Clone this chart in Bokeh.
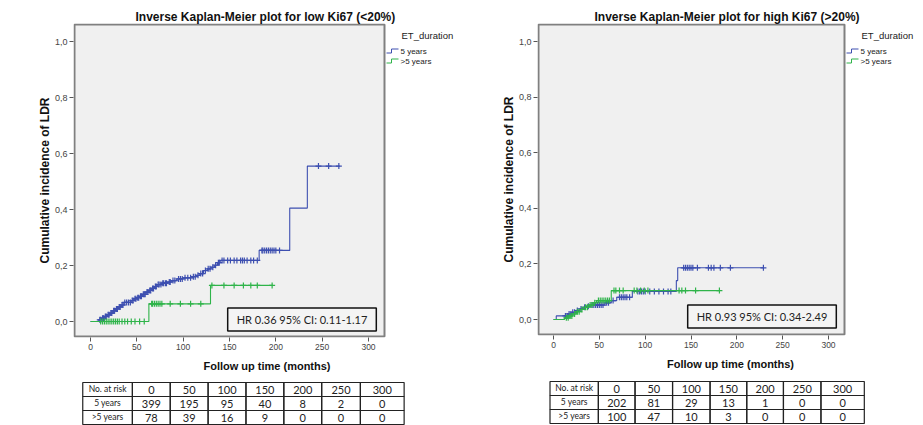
import numpy as np
from bokeh.plotting import figure
from bokeh.models import Range1d, Label, FixedTicker, CustomJSTickFormatter
from bokeh.layouts import row, column
from bokeh.embed import file_html
from bokeh.resources import INLINE
from bokeh.core.properties import value

# ---------------- data ----------------
x_ticks = [0, 50, 100, 150, 200, 250, 300]
y_ticks = [0.0, 0.2, 0.4, 0.6, 0.8, 1.0]
group_labels = ["5 years", ">5 years"]

# low Ki67, ET 5 years
L5_t = [0, 9, 12, 15, 18, 21, 24, 27, 30, 33, 36, 44, 47, 50, 53, 56, 60, 63, 66, 69,
        72, 77, 83, 88, 93, 100, 110, 114, 118, 122, 126, 130, 134, 137, 140, 182, 215, 234]
L5_y = [0, .006, .012, .018, .024, .030, .038, .045, .052, .059, .068, .075, .081, .085, .090,
        .097, .105, .111, .118, .125, .132, .137, .141, .146, .152, .156, .160, .165, .171, .182,
        .188, .194, .201, .210, .218, .254, .405, .555]
L5_end = 269
L5_cens = [10, 11, 13, 14, 16, 17, 19, 20, 22, 23, 25, 26, 28, 29, 31, 32, 34, 35, 37, 39, 41,
           43, 45, 46, 48, 49, 51, 52, 54, 55, 57, 58, 59, 61, 62, 64, 65, 67, 68, 70, 71, 73, 74,
           76, 78, 79, 81, 82, 85, 86, 89, 91, 95, 97, 99, 102, 105, 108, 111, 113, 116, 119, 121,
           124, 127, 129, 132, 135, 138, 139, 142, 144, 148, 151, 155, 158, 162, 164, 166, 169,
           173, 176, 180, 185, 186, 188, 190, 192, 194, 196, 198, 200, 204, 246, 257, 268]
# low Ki67, ET >5 years
LG_t = [0, 63, 129.5]
LG_y = [0, 0.063, 0.129]
LG_end = 197
LG_cens = [11, 13, 15, 17, 19, 21, 23, 25, 27, 29, 31, 34, 37, 40, 44, 48, 53, 58, 66, 67, 69,
           71, 73, 75, 77, 86, 97, 108, 119, 131, 144, 155, 165, 173, 180, 196]

# high Ki67, ET 5 years
R5_t = [0, 3, 16, 20, 24, 28, 32, 36, 40, 56, 63, 69, 86, 134, 135.5]
R5_y = [0, .013, .02, .026, .032, .038, .044, .048, .052, .06, .068, .08, .101, .14, .186]
R5_end = 229
R5_cens = [13, 15, 17, 19, 21, 23, 26, 30, 34, 38, 42, 44, 46, 48, 50, 52, 54, 58, 60, 65, 72,
           74, 76, 78, 80, 83, 92, 94, 96, 98, 100, 105, 110, 115, 120, 125, 128, 142, 144, 146,
           148, 150, 152, 157, 169, 172, 175, 182, 193, 229]
# high Ki67, ET >5 years
RG_t = [0, 12, 17, 21, 25, 29, 33, 38, 43, 47, 63]
RG_y = [0, .006, .013, .02, .028, .036, .044, .052, .06, .068, .104]
RG_end = 181
RG_cens = [14, 16, 18, 20, 23, 26, 28, 31, 35, 37, 40, 42, 45, 49, 51, 53, 55, 57, 59, 61, 66,
           68, 72, 76, 88, 91, 95, 99, 103, 137, 140, 144, 155, 181]

risk_header = "No. at risk"
L_risk_5 = [399, 195, 95, 40, 8, 2, 0]
L_risk_g5 = [78, 39, 16, 9, 0, 0, 0]
R_risk_5 = [202, 81, 29, 13, 1, 0, 0]
R_risk_g5 = [100, 47, 10, 3, 0, 0, 0]

L_title = "Inverse Kaplan-Meier plot for low Ki67 (<20%)"
R_title = "Inverse Kaplan-Meier plot for high Ki67 (>20%)"
L_hr = "HR 0.36 95% CI: 0.11-1.17"
R_hr = "HR 0.93 95% CI: 0.34-2.49"
legend_title = "ET_duration"

BLUE = "#3d4fb0"
GREEN = "#2fb44a"
AX_FONT = "Liberation Sans"
TBL_FONT = "Lato"


def add_curve(p, t, y, end, cens, color):
    xs = list(t) + [end]
    ys = list(y) + [y[-1]]
    p.step(xs, ys, mode="after", line_color=color, line_width=1.1)
    idx = np.searchsorted(np.array(t, dtype=float), np.array(cens, dtype=float), side="right") - 1
    cy = [y[i] for i in idx]
    p.scatter(cens, cy, marker="cross", size=6, line_color=color, line_width=1.2)


def km_panel(width, height, fig_x, frame, x0px, kx, y0px, ky, box, title, title_left,
             curves, hr_text, hr_center):
    """frame / box: (left, right, top, bottom) in page pixels; fig_x: figure's page x."""
    fl, fr, ft, fb = frame
    X = lambda px: (px - x0px) / kx      # page px -> months
    Y = lambda py: (y0px - py) / ky      # page px -> incidence
    p = figure(width=width, height=height, output_backend="svg", toolbar_location=None,
               x_range=Range1d(X(fl), X(fr)), y_range=Range1d(Y(fb), Y(ft)),
               min_border_left=fl - fig_x, min_border_right=fig_x + width - fr,
               min_border_top=ft, min_border_bottom=height - fb,
               background_fill_color="white", border_fill_color="white", title=title)
    p.outline_line_color = None
    p.title.align = "left"
    p.title.offset = title_left - fl
    p.title.standoff = 0
    p.title.text_font = AX_FONT
    p.title.text_font_style = "bold"
    p.title.text_font_size = "12px"
    p.title.text_color = "#111111"
    p.grid.visible = False
    p.xaxis.ticker = FixedTicker(ticks=x_ticks)
    p.yaxis.ticker = FixedTicker(ticks=y_ticks)
    p.yaxis.formatter = CustomJSTickFormatter(code="return tick.toFixed(1).replace('.', ',');")
    for ax in (p.xaxis, p.yaxis):
        ax.axis_line_color = None
        ax.major_tick_line_color = "#555555"
        ax.major_tick_out = 4
        ax.major_tick_in = 0
        ax.minor_tick_line_color = None
        ax.major_label_text_font = AX_FONT
        ax.major_label_text_color = "#444444"
        ax.major_label_standoff = 2
        ax.axis_label_text_font = AX_FONT
        ax.axis_label_text_font_style = "bold"
        ax.axis_label_text_color = "#111111"
    p.xaxis.major_label_text_font_size = "8.5px"
    p.yaxis.major_label_text_font_size = "9px"
    p.xaxis.axis_label = "Follow up time (months)"
    p.xaxis.axis_label_text_font_size = "11px"
    p.xaxis.axis_label_standoff = 7
    p.yaxis.axis_label = "Cumulative incidence of LDR"
    p.yaxis.axis_label_text_font_size = "12px"
    p.yaxis.axis_label_standoff = 0

    # plot area (grey box with frame)
    bl, br, bt, bb = box
    p.quad(left=[X(bl)], right=[X(br)], top=[Y(bt)], bottom=[Y(bb)],
           fill_color="#f0f0f0", line_color="#808080", line_width=2)

    for (t, y, end, cens, color) in curves:
        add_curve(p, t, y, end, cens, color)

    p.add_layout(Label(x=X(hr_center[0]), y=Y(hr_center[1]), text=hr_text,
                       text_align="center", text_baseline="middle", text_font=TBL_FONT,
                       text_font_size="11px", text_color="#222222",
                       border_line_color="#111111", border_line_width=1.5,
                       background_fill_color="#f4f4f4", padding=(9, 5)))

    # legend drawn to the right of the plot area
    p.text([X(br + 17)], [Y(35)], text=[legend_title], text_align="left",
           text_baseline="middle", text_font=value(AX_FONT), text_font_size="9.5px",
           text_color="#222222")
    colors = [c[4] for c in curves]
    for i, (lab, col) in enumerate(zip(group_labels, colors)):
        cy = 50.5 + 10 * i
        p.line([X(br + 2), X(br + 7), X(br + 7), X(br + 14)],
               [Y(cy + 2), Y(cy + 2), Y(cy - 2), Y(cy - 2)], line_color=col, line_width=1)
        p.text([X(br + 16)], [Y(cy)], text=[lab], text_align="left", text_baseline="middle",
               text_font=value(AX_FONT), text_font_size="8px", text_color="#222222")
    return p


def table_fig(width, height, left, top, widths, rowh, rows):
    p = figure(width=width, height=height, output_backend="svg", toolbar_location=None,
               x_range=Range1d(0, width), y_range=Range1d(height, 0), min_border=0,
               x_axis_type=None, y_axis_type=None, outline_line_color=None,
               background_fill_color="white", border_fill_color="white")
    p.grid.visible = False
    edges = np.concatenate([[left], left + np.cumsum(widths)])
    lefts, rights, tops, bottoms = [], [], [], []
    small_x, small_y, small_t, big_x, big_y, big_t = [], [], [], [], [], []
    for r, cells in enumerate(rows):
        for c, txt in enumerate(cells):
            lefts.append(edges[c]); rights.append(edges[c + 1])
            tops.append(top + r * rowh); bottoms.append(top + (r + 1) * rowh)
            cx = (edges[c] + edges[c + 1]) / 2
            cy = top + (r + 0.5) * rowh
            if c == 0:
                small_x.append(cx); small_y.append(cy - 1); small_t.append(txt)
            else:
                big_x.append(cx); big_y.append(cy + 0.5); big_t.append(txt)
    p.quad(left=lefts, right=rights, top=tops, bottom=bottoms, fill_color=None,
           line_color="#222222", line_width=1.2)
    p.text(small_x, small_y, text=small_t, text_align="center", text_baseline="middle",
           text_font=value(TBL_FONT), text_font_size="8.5px", text_color="#222222")
    p.text(big_x, big_y, text=big_t, text_align="center", text_baseline="middle",
           text_font=value(TBL_FONT), text_font_size="11px", text_color="#222222")
    return p


pL = km_panel(460, 380, 0, (73, 460, 23, 337), 90, 278 / 300, 321, 280, (74, 384, 24, 336),
              L_title, 135,
              [(L5_t, L5_y, L5_end, L5_cens, BLUE), (LG_t, LG_y, LG_end, LG_cens, GREEN)],
              L_hr, (301.5, 319))
pR = km_panel(463, 380, 460, (537, 923, 23, 335), 553, 275 / 300, 319, 278, (538, 844, 24, 334),
              R_title, 594,
              [(R5_t, R5_y, R5_end, R5_cens, BLUE), (RG_t, RG_y, RG_end, RG_cens, GREEN)],
              R_hr, (761.5, 316))

L_rows = [[risk_header] + [str(v) for v in x_ticks],
          [group_labels[0]] + [str(v) for v in L_risk_5],
          [group_labels[1]] + [str(v) for v in L_risk_g5]]
R_rows = [[risk_header] + [str(v) for v in x_ticks],
          [group_labels[0]] + [str(v) for v in R_risk_5],
          [group_labels[1]] + [str(v) for v in R_risk_g5]]

tL = table_fig(460, 45, 11, 2, [59, 45, 45, 45, 45, 45, 46, 52], 14, L_rows)
tR = table_fig(463, 45, 15, 1, [58, 44, 45, 45, 44, 44, 45, 52], 14, R_rows)

layout = row(column(pL, tL), column(pR, tR))
open("out.html", "w").write(file_html(layout, INLINE))
